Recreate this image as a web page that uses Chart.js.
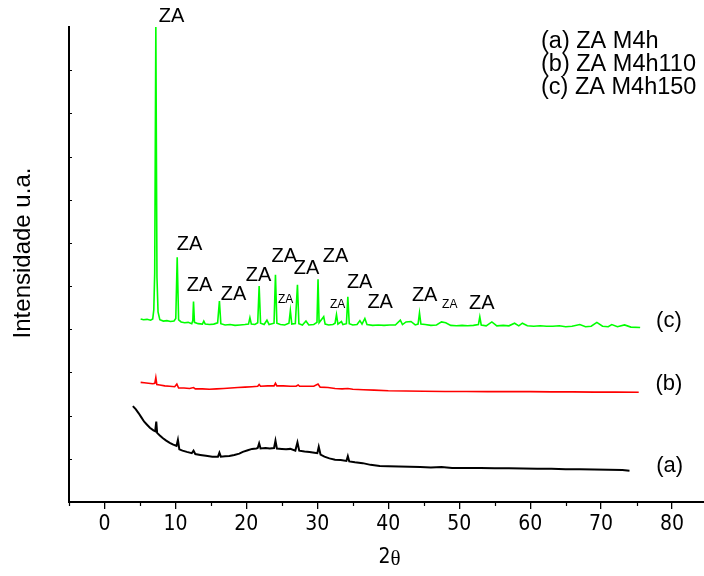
<!DOCTYPE html>
<html>
<head>
<meta charset="utf-8">
<script src="https://cdn.jsdelivr.net/npm/chart.js@4.4.1/dist/chart.umd.min.js"></script>
<style>
  html, body { margin: 0; padding: 0; background: #fff; }
  #wrap { width: 704px; height: 576px; }
</style>
</head>
<body>
<div id="wrap"><canvas id="c" width="704" height="576"></canvas></div>
<script>
// ---------- DATA (2θ in degrees, intensity in arbitrary units) ----------
const seriesNames = ['(a) ZA M4h', '(b) ZA M4h110', '(c) ZA M4h150'];
const seriesTags = ['(a)', '(b)', '(c)'];

// (c) ZA M4h150 - green
const cX = [5.1,5.5,6.0,6.5,6.8,6.95,7.08,7.24,7.4,7.55,7.8,8.3,8.8,9.3,9.8,10.05,10.25,10.45,10.8,11.3,11.8,12.3,12.45,12.55,12.68,13.2,13.8,14.0,14.2,14.8,15.4,15.95,16.2,16.4,17.0,17.7,18.4,19.1,19.8,20.3,20.5,20.7,21.2,21.6,21.8,22.0,22.5,22.9,23.2,23.9,24.1,24.3,24.8,25.4,26.0,26.2,26.4,26.9,27.2,27.4,27.9,28.4,28.8,29.5,29.95,30.1,30.25,30.9,31.1,31.6,32.2,32.5,32.7,32.9,33.4,33.6,34.1,34.3,34.5,35.0,35.6,36.0,36.3,36.7,37.0,37.8,38.6,39.4,40.2,41.0,41.7,42.0,42.5,43.2,43.8,44.2,44.4,44.6,45.2,46.0,46.8,47.5,48.1,48.8,49.6,50.4,51.2,52.0,52.7,52.9,53.1,53.8,54.6,55.3,56.2,57.0,57.8,58.4,58.9,59.6,60.5,61.4,62.3,63.2,64.1,65.0,65.9,67.0,67.8,68.6,69.4,70.2,71.0,71.5,72.3,73.3,74.2,75.5];
const cY = [4.24,4.22,4.23,4.21,4.24,4.45,5.3,11.0,5.2,4.4,4.22,4.19,4.2,4.18,4.19,4.25,5.67,4.22,4.17,4.15,4.16,4.13,4.2,4.64,4.16,4.13,4.12,4.19,4.12,4.11,4.12,4.15,4.655,4.13,4.1,4.11,4.09,4.1,4.11,4.12,4.27,4.12,4.11,4.15,5.0,4.14,4.11,4.21,4.11,4.14,5.26,4.14,4.11,4.1,4.14,4.43,4.12,4.13,5.03,4.13,4.1,4.19,4.1,4.11,4.16,5.16,4.15,4.29,4.12,4.1,4.11,4.14,4.34,4.12,4.18,4.11,4.13,4.75,4.13,4.1,4.11,4.2,4.12,4.25,4.11,4.09,4.1,4.09,4.1,4.1,4.21,4.11,4.17,4.18,4.1,4.12,4.38,4.12,4.11,4.09,4.1,4.17,4.15,4.09,4.08,4.09,4.08,4.09,4.11,4.29,4.1,4.08,4.17,4.08,4.09,4.08,4.14,4.08,4.14,4.08,4.07,4.08,4.07,4.07,4.08,4.06,4.07,4.11,4.06,4.07,4.16,4.07,4.06,4.11,4.06,4.1,4.05,4.04];

// (b) ZA M4h110 - red
const bX = [5.1,5.6,6.2,6.8,7.1,7.24,7.38,7.8,8.5,9.2,9.9,10.2,10.45,11.2,12.0,12.55,12.8,13.8,14.8,15.8,16.8,17.8,18.8,19.8,20.8,21.6,21.8,22.0,23.0,23.9,24.1,24.3,25.2,26.2,27.0,27.3,27.5,28.5,29.5,30.1,30.4,31.5,32.5,33.5,34.3,35.0,36.5,38.0,40.0,42.5,45.0,48.0,51.0,54.0,57.0,60.0,63.0,66.0,69.0,72.0,75.3];
const bY = [2.77,2.76,2.75,2.74,2.75,2.88,2.72,2.71,2.69,2.68,2.67,2.73,2.64,2.64,2.63,2.65,2.62,2.62,2.61,2.62,2.63,2.64,2.65,2.66,2.67,2.68,2.72,2.68,2.69,2.69,2.75,2.69,2.69,2.68,2.68,2.71,2.68,2.68,2.68,2.73,2.66,2.65,2.63,2.62,2.63,2.61,2.6,2.59,2.575,2.57,2.565,2.56,2.56,2.555,2.555,2.555,2.55,2.55,2.545,2.545,2.54];

// (a) ZA M4h - black
const aX = [4.0,4.4,4.8,5.2,5.6,6.0,6.4,6.9,7.15,7.3,7.42,7.8,8.2,8.7,9.2,9.7,10.15,10.35,10.55,11.0,11.6,12.3,12.55,12.8,13.5,14.3,15.2,16.0,16.2,16.4,17.0,17.6,18.3,19.0,19.5,20.2,20.8,21.4,21.6,21.8,22.0,22.7,23.3,23.9,24.1,24.3,25.0,25.6,26.2,26.9,27.2,27.45,28.2,28.9,29.6,30.0,30.2,30.45,31.0,31.7,32.5,33.3,34.1,34.3,34.5,35.3,36.4,37.5,38.8,40.0,41.5,43.0,44.5,46.0,47.5,49.0,51.0,53.0,55.0,57.0,59.0,61.0,63.0,65.0,67.0,69.0,71.0,73.0,74.0];
const aY = [2.22,2.15,2.06,1.96,1.86,1.79,1.72,1.66,1.64,1.86,1.6,1.54,1.48,1.42,1.37,1.33,1.3,1.44,1.22,1.19,1.16,1.13,1.19,1.11,1.09,1.07,1.05,1.05,1.14,1.05,1.06,1.065,1.09,1.12,1.16,1.2,1.23,1.24,1.25,1.36,1.24,1.25,1.24,1.25,1.42,1.24,1.23,1.22,1.23,1.19,1.38,1.19,1.17,1.16,1.14,1.13,1.28,1.1,1.05,1.01,0.98,0.97,0.95,1.06,0.94,0.92,0.9,0.86,0.835,0.83,0.82,0.815,0.81,0.8,0.81,0.79,0.79,0.785,0.78,0.78,0.775,0.77,0.77,0.76,0.76,0.755,0.745,0.74,0.725];

// Peak labels "ZA" (label centre in data coordinates)
const peakLabelX = [9.45,11.99,13.4,18.19,21.72,25.33,25.53,28.49,32.58,32.86,35.97,38.86,45.13,48.66,53.17];
const peakLabelY = [11.255,5.975,5.009,4.817,5.257,5.697,4.694,5.419,5.681,4.562,5.079,4.625,4.794,4.562,4.602];
const peakLabelSmall = [false,false,false,false,false,false,true,false,false,true,false,false,false,true,false];

// Series tags at right (data coordinates)
const tagX = [79.65, 79.55, 79.55];
const tagY = [0.834, 2.733, 4.19];

// Axis ticks
const xMin = -5, xMax = 84.5, xStep = 10;
const xMinorTicks = [-5,5,15,25,35,45,55,65,75];
const yMin = 0, yMax = 11;
const yMinorTicks = [1,2,3,4,5,6,7,8,9,10];

// ---------- CHART ----------
const pts = (xs, ys) => xs.map((v, i) => ({x: v, y: ys[i]}));
const SANS = "'Liberation Sans', Arial, sans-serif";
const NARROW = "'Liberation Sans Narrow', 'DejaVu Sans Condensed', Arial, sans-serif";

const overlay = {
  id: 'overlay',
  afterDraw(chart) {
    const {ctx} = chart;
    const x = chart.scales.x, y = chart.scales.y;
    ctx.save();
    // inward y ticks
    ctx.strokeStyle = '#000';
    ctx.lineWidth = 1.2;
    ctx.beginPath();
    yMinorTicks.forEach(v => {
      const py = Math.round(y.getPixelForValue(v)) + 0.5;
      ctx.moveTo(x.left, py); ctx.lineTo(x.left + 3, py);
    });
    // minor x ticks
    xMinorTicks.forEach(v => {
      const px = Math.round(x.getPixelForValue(v)) + 0.5;
      ctx.moveTo(px, y.bottom); ctx.lineTo(px, y.bottom + 4);
    });
    ctx.stroke();

    ctx.fillStyle = '#000';
    ctx.textAlign = 'center';
    ctx.textBaseline = 'middle';
    // peak labels
    peakLabelX.forEach((v, i) => {
      ctx.font = (peakLabelSmall[i] ? '12px ' : '20px ') + SANS;
      ctx.fillText('ZA', x.getPixelForValue(v), y.getPixelForValue(peakLabelY[i]));
    });
    // series tags
    ctx.font = '22px ' + SANS;
    seriesTags.forEach((t, i) => {
      ctx.fillText(t, x.getPixelForValue(tagX[i]), y.getPixelForValue(tagY[i]));
    });
    // legend text block
    ctx.textAlign = 'left';
    ctx.font = '23.5px ' + SANS;
    seriesNames.forEach((t, i) => {
      ctx.fillText(t, 541, 42 + i * 23);
    });
    // y title
    ctx.save();
    ctx.translate(23, 253);
    ctx.rotate(-Math.PI / 2);
    ctx.textAlign = 'center';
    ctx.font = '24px ' + SANS;
    ctx.fillText('Intensidade u.a.', 0, 0);
    ctx.restore();
    // x title "2θ"
    ctx.font = '21px ' + NARROW;
    const w2 = ctx.measureText('2').width;
    ctx.font = '21px "Liberation Serif", serif';
    const wt = ctx.measureText('θ').width;
    const cx = (x.left + x.right) / 2 + 3 - (w2 + wt) / 2;
    ctx.textAlign = 'left';
    ctx.font = '21px ' + NARROW;
    ctx.fillText('2', cx, 558);
    ctx.font = '21px "Liberation Serif", serif';
    ctx.fillText('θ', cx + w2, 559);
    ctx.restore();
  }
};

new Chart(document.getElementById('c'), {
  type: 'line',
  data: {
    datasets: [
      { label: seriesNames[0], data: pts(aX, aY), borderColor: '#000000', borderWidth: 2 },
      { label: seriesNames[1], data: pts(bX, bY), borderColor: '#ff0000', borderWidth: 1.6 },
      { label: seriesNames[2], data: pts(cX, cY), borderColor: '#00ff00', borderWidth: 1.6 }
    ]
  },
  options: {
    responsive: false,
    devicePixelRatio: 1,
    animation: false,
    parsing: true,
    elements: { point: { radius: 0 }, line: { tension: 0 } },
    layout: { padding: { top: 27, left: 0, right: 0, bottom: 0 } },
    plugins: { legend: { display: false }, tooltip: { enabled: false } },
    scales: {
      x: {
        type: 'linear',
        min: xMin, max: xMax,
        afterFit: s => { s.height = 74; },
        ticks: { stepSize: xStep, includeBounds: false, color: '#000', padding: 3,
                 font: { family: NARROW, size: 21 }, maxRotation: 0, autoSkip: false },
        grid: { display: true, drawOnChartArea: false, drawTicks: true, tickLength: 7,
                color: '#000', lineWidth: 1.3 },
        border: { display: true, color: '#000', width: 2 }
      },
      y: {
        type: 'linear',
        min: yMin, max: yMax,
        afterFit: s => { s.width = 69; },
        ticks: { display: false },
        grid: { display: false },
        border: { display: true, color: '#000', width: 2 }
      }
    }
  },
  plugins: [overlay]
});
</script>
</body>
</html>
